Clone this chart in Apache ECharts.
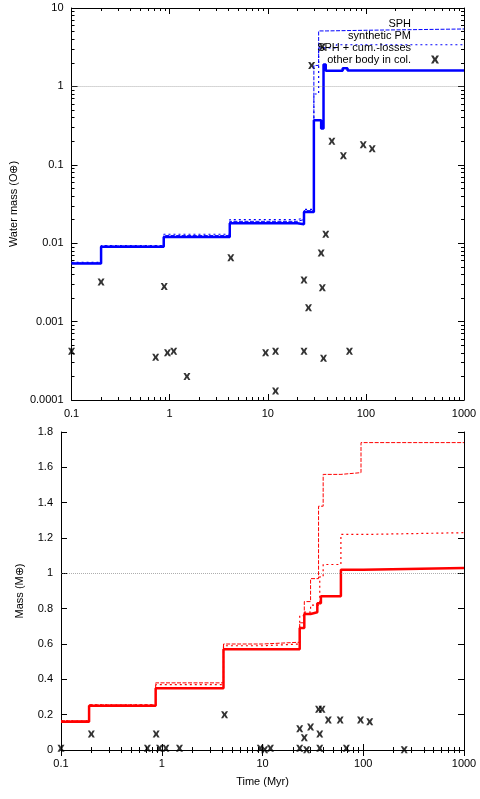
<!DOCTYPE html><html><head><meta charset="utf-8"><script src="https://cdn.jsdelivr.net/npm/echarts@6/dist/echarts.min.js"></script></head><body style="margin:0;background:#fff"><div id="c" style="width:480px;height:799px"></div><script>
const wSPH=[[0.1,0.0055],[0.2,0.009],[0.87,0.012],[4.1,0.018],[20,0.0175],[23.4,0.025],[29.5,0.37],[35,0.29],[37,1.9],[39,1.58],[58,1.7],[65,1.6],[1000,1.6]];
const wPM=[[0.1,0.0056],[0.2,0.0092],[0.87,0.0125],[4.1,0.019],[20,0.02],[23.4,0.026],[29.5,1.85],[33,5.1],[40,5.2],[100,5.4],[1000,5.4]];
const wCL=[[0.1,0.0057],[0.2,0.0093],[0.87,0.013],[4.1,0.02],[20,0.021],[23.4,0.027],[29.5,0.8],[33,3.1],[50,3.4],[1000,3.4]];
const wOther=[[0.1,0.00042],[0.2,0.0032],[0.72,0.00035],[0.88,0.0028],[0.95,0.0004],[1.1,0.00042],[1.5,0.0002],[4.2,0.0065],[9.5,0.0004],[12,0.00042],[12,0.00013],[23.4,0.0034],[23.4,0.00042],[26,0.0015],[28,1.85],[35,0.0075],[36,0.0027],[37,0.00034],[39,0.013],[36,3.2],[45,0.2],[59,0.13],[68,0.00042],[94,0.18],[116,0.16]];
const mSPH=[[0.1,0.16],[0.19,0.25],[0.87,0.35],[4.1,0.57],[23.4,0.69],[26,0.77],[30,0.78],[35,0.83],[38,0.87],[60,1.02],[100,1.03],[1000,1.03]];
const mPM=[[0.1,0.165],[0.19,0.255],[0.87,0.38],[4.1,0.6],[10,0.61],[23.4,0.72],[26,0.84],[30,0.97],[36,1.38],[40,1.56],[60,1.57],[95,1.74],[1000,1.74]];
const mCL=[[0.1,0.165],[0.19,0.255],[0.87,0.37],[4.1,0.59],[10,0.6],[23.4,0.76],[26,0.78],[30,0.82],[37,0.98],[40,1.05],[60,1.22],[100,1.23],[1000,1.23]];
const mOther=[[0.1,0.01],[0.2,0.09],[0.72,0.01],[0.88,0.09],[0.95,0.01],[1.1,0.01],[1.5,0.01],[4.2,0.2],[9.5,0.01],[10.5,0.002],[12,0.01],[23.4,0.12],[23.4,0.01],[26,0.07],[30,0.13],[27.4,0.002],[37,0.09],[36,0.23],[39,0.23],[45,0.17],[59,0.17],[94,0.17],[116,0.16],[37,0.01],[68,0.01],[255,0.002]];
const X='path://M0,0L3,0L5,3L7,0L10,0L7,5L10,10L7,10L5,7L3,10L0,10L3,5Z';
const F='Liberation Sans';
const tk={inside:true,length:6,lineStyle:{color:'#000'}};
function lg(i,extra){return Object.assign({gridIndex:i,axisLine:{lineStyle:{color:'#000'}},axisTick:tk,minorTick:{show:true,splitNumber:9,length:3,lineStyle:{color:'#000'}},
 axisLabel:{fontFamily:F,fontSize:11,color:'#000',formatter:v=>String(+v.toPrecision(3))},splitLine:{show:false},nameTextStyle:{fontFamily:F,fontSize:11,color:'#000'}},extra);}
function xa(i,name,pos){return lg(i,{type:'log',min:0.1,max:1000,position:pos,name:name,nameLocation:'middle',nameGap:26,axisLabel:pos==='top'?{show:false}:lg(0,{}).axisLabel});}
const c=echarts.init(document.getElementById('c'));
const ref=()=>({silent:true,symbol:'none',label:{show:false},lineStyle:{color:'#777',type:[1,1],width:0.6},data:[{yAxis:1}]});
const noLab={show:false};
c.setOption({animation:false,
grid:[{left:61,right:16,top:8,height:392},{left:61,right:16,top:432,height:318}],
legend:{top:13,right:36,orient:'vertical',align:'right',itemWidth:38,itemHeight:8,itemGap:1,textStyle:{fontFamily:F,fontSize:11,color:'#000'},
 data:[{name:'SPH',icon:'none'},{name:'synthetic PM',icon:'none'},{name:'SPH + cum.-losses',icon:'none'},{name:'other body in col.',icon:X,itemStyle:{color:'#000'}}]},
xAxis:[xa(0,'','bottom'),xa(1,'Time (Myr)','bottom'),xa(0,'','top'),xa(1,'','top')],
yAxis:[lg(0,{type:'log',min:0.0001,max:10,name:'Water mass (O\u2295)',nameLocation:'middle',nameGap:48}),
 lg(1,{type:'value',min:0,max:1.8,interval:0.2,name:'Mass (M\u2295)',nameLocation:'middle',nameGap:36,minorTick:{show:false},axisLabel:{fontFamily:F,fontSize:11,color:'#000',formatter:v=>String(+v.toFixed(1))}}),
 lg(0,{type:'log',min:0.0001,max:10,position:'right',axisLabel:noLab}),
 lg(1,{type:'value',min:0,max:1.8,interval:0.2,position:'right',minorTick:{show:false},axisLabel:noLab})],
series:[
 {name:'SPH',type:'line',step:'end',data:wSPH,symbol:'none',color:'#0000ff',lineStyle:{width:2.5},markLine:ref()},
 {name:'synthetic PM',type:'line',step:'end',data:wPM,symbol:'none',color:'#0000ff',lineStyle:{width:1,type:[4,1.5]}},
 {name:'SPH + cum.-losses',type:'line',step:'end',data:wCL,symbol:'none',color:'#0000ff',lineStyle:{width:1.2,type:[2,3]}},
 {name:'other body in col.',type:'scatter',data:wOther,symbol:X,symbolSize:7,color:'#000'},
 {type:'line',step:'end',xAxisIndex:1,yAxisIndex:1,data:mSPH,symbol:'none',color:'#ff0000',lineStyle:{width:2.5},markLine:ref()},
 {type:'line',step:'end',xAxisIndex:1,yAxisIndex:1,data:mPM,symbol:'none',color:'#ff0000',lineStyle:{width:1,type:[4,1.5]}},
 {type:'line',step:'end',xAxisIndex:1,yAxisIndex:1,data:mCL,symbol:'none',color:'#ff0000',lineStyle:{width:1.2,type:[2,3]}},
 {type:'scatter',xAxisIndex:1,yAxisIndex:1,data:mOther,symbol:X,symbolSize:7,color:'#000'}
]});
</script></body></html>
